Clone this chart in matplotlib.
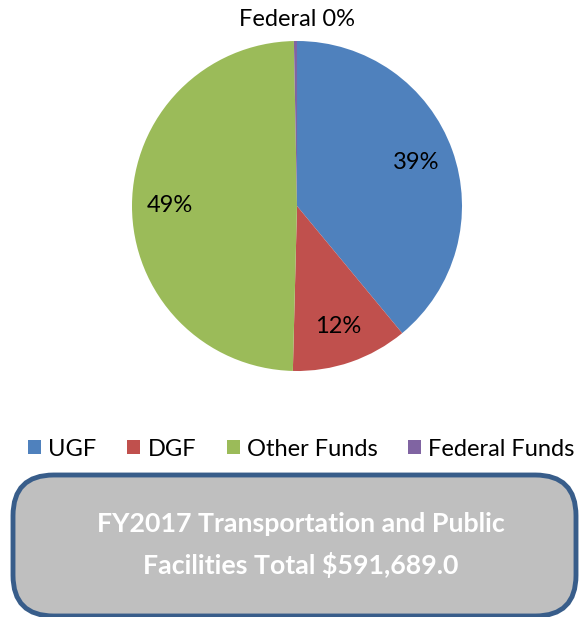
import numpy as np
import matplotlib.pyplot as plt
from matplotlib.patches import FancyBboxPatch, Patch

# fund shares (percent of total)
labels = ['UGF', 'DGF', 'Other Funds', 'Federal Funds']
shares = [39.0, 11.4, 49.3, 0.3]
pct_text = ['39%', '12%', '49%', 'Federal 0%']
colors = ['#4F81BD', '#C0504D', '#9BBB59', '#8064A2']
box_title = 'FY2017 Transportation and Public\nFacilities Total $591,689.0'

plt.rcParams['font.family'] = ['Lato', 'DejaVu Sans']

W, H = 582, 617
fig = plt.figure(figsize=(W / 100, H / 100), dpi=100)

# pie axes: centre (297, 206) px, radius 165 px
cx, cy, r = 297, 206, 165
ax = fig.add_axes([(cx - r) / W, 1 - (cy + r) / H, 2 * r / W, 2 * r / H])
wedges, _ = ax.pie(shares, colors=colors, startangle=90, counterclock=False,
                   wedgeprops=dict(linewidth=0))
ax.set_aspect('equal')
ax.set_xlim(-1, 1)
ax.set_ylim(-1, 1)

for w, t in zip(wedges, pct_text):
    mid = np.deg2rad((w.theta1 + w.theta2) / 2)
    if t.startswith('Federal'):
        ax.text(0, 1.13, t, ha='center', va='center', fontsize=17)
    else:
        ax.text(0.77 * np.cos(mid), 0.77 * np.sin(mid), t,
                ha='center', va='center', fontsize=17)

# legend
handles = [Patch(facecolor=c, edgecolor='none') for c in colors]
fig.legend(handles, labels, loc='center', bbox_to_anchor=(0.518, 1 - 449 / H),
           ncol=4, frameon=False, fontsize=17, handlelength=0.55, handleheight=0.55,
           handletextpad=0.3, columnspacing=1.3, borderpad=0)

# total box
box = FancyBboxPatch((13 / W, 1 - 616 / H), 563 / W, 141 / H,
                     boxstyle='round,pad=0,rounding_size=0.07',
                     transform=fig.transFigure, facecolor='#BFBFBF',
                     edgecolor='#385D8A', linewidth=3.5, mutation_aspect=W / H)
fig.patches.append(box)
fig.text(0.517, 1 - 545 / H, box_title, ha='center', va='center', color='white',
         fontsize=19.3, fontweight='bold', linespacing=1.7)

fig.savefig('out.png', dpi=100)
